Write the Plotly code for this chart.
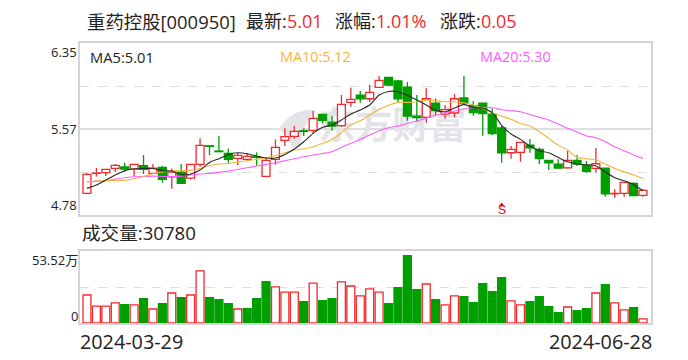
import plotly.graph_objects as go

dates = ["2024-03-29", "2024-06-28"]
days = list(range(60))

price_open = [4.977,5.160,5.166,5.205,5.218,5.199,5.230,5.160,5.215,5.129,5.172,5.117,5.242,5.412,5.364,5.342,5.297,5.288,5.312,5.132,
              5.288,5.461,5.498,5.549,5.552,5.698,5.628,5.595,5.808,5.875,5.841,5.945,6.036,6.003,5.948,5.683,5.671,5.802,5.701,5.711,
              5.848,5.778,5.802,5.701,5.574,5.348,5.351,5.418,5.379,5.278,5.245,5.211,5.278,5.233,5.205,5.208,4.974,4.977,5.069,4.959]
price_high = [5.160,5.210,5.196,5.245,5.257,5.242,5.327,5.245,5.227,5.205,5.245,5.242,5.479,5.412,5.501,5.388,5.348,5.342,5.352,5.306,
              5.470,5.571,5.592,5.571,5.729,5.698,5.683,5.875,5.942,5.911,5.966,6.048,6.036,6.012,5.994,5.875,5.936,5.844,5.781,5.884,
              6.048,5.820,5.802,5.753,5.592,5.409,5.443,5.473,5.397,5.278,5.288,5.364,5.327,5.272,5.391,5.208,5.014,5.078,5.078,5.014]
price_low = [4.977,5.130,5.135,5.172,5.175,5.135,5.154,5.154,5.075,5.020,5.069,5.105,5.221,5.327,5.358,5.245,5.236,5.275,5.230,5.132,
             5.239,5.409,5.476,5.501,5.525,5.616,5.549,5.586,5.768,5.805,5.811,5.945,5.960,5.808,5.641,5.628,5.622,5.689,5.659,5.674,
             5.781,5.686,5.504,5.510,5.257,5.294,5.266,5.348,5.245,5.190,5.202,5.205,5.227,5.166,5.166,4.947,4.938,4.947,4.956,4.947]
price_close = [5.151,5.163,5.196,5.233,5.199,5.242,5.196,5.208,5.105,5.172,5.069,5.242,5.415,5.406,5.358,5.288,5.324,5.315,5.306,5.278,
               5.397,5.495,5.543,5.543,5.662,5.644,5.592,5.790,5.835,5.841,5.899,6.009,5.966,5.841,5.683,5.668,5.841,5.732,5.741,5.841,
               5.802,5.714,5.705,5.522,5.348,5.379,5.443,5.394,5.294,5.257,5.208,5.278,5.245,5.178,5.248,4.974,4.977,5.078,4.956,5.005]

ma5 = [5.023,5.053,5.099,5.145,5.184,5.202,5.205,5.205,5.184,5.181,5.148,5.154,5.190,5.260,5.294,5.333,5.348,5.339,5.318,5.300,
       5.300,5.333,5.382,5.449,5.525,5.580,5.601,5.647,5.701,5.738,5.784,5.875,5.908,5.905,5.872,5.829,5.784,5.735,5.723,5.756,
       5.790,5.759,5.756,5.714,5.598,5.519,5.470,5.409,5.367,5.348,5.306,5.266,5.245,5.239,5.227,5.175,5.120,5.093,5.059,5.001]
ma10 = [5.084,5.090,5.096,5.096,5.096,5.111,5.132,5.157,5.172,5.184,5.184,5.190,5.205,5.230,5.245,5.251,5.263,5.275,5.288,5.303,
        5.321,5.348,5.373,5.385,5.403,5.434,5.470,5.531,5.601,5.641,5.692,5.744,5.781,5.808,5.808,5.814,5.829,5.823,5.814,5.814,
        5.805,5.784,5.753,5.714,5.683,5.653,5.616,5.592,5.540,5.479,5.418,5.373,5.306,5.294,5.282,5.245,5.205,5.175,5.145,5.114]
ma20 = [5.081,5.087,5.093,5.108,5.120,5.129,5.132,5.135,5.132,5.132,5.135,5.145,5.154,5.160,5.169,5.181,5.196,5.212,5.227,5.242,
        5.257,5.275,5.294,5.312,5.327,5.342,5.358,5.397,5.434,5.470,5.510,5.549,5.577,5.592,5.616,5.638,5.662,5.692,5.714,5.729,
        5.750,5.759,5.762,5.759,5.741,5.732,5.723,5.698,5.671,5.647,5.610,5.571,5.537,5.501,5.485,5.449,5.403,5.367,5.327,5.297]

volume = [20.8,12.6,12.6,14.9,13.6,13.4,18.1,10.4,14.4,22.3,18.8,20.8,38.7,18.8,17.3,14.4,10.4,10.7,18.1,30.7,
          26.8,23.0,23.0,15.9,29.7,16.6,18.1,30.5,27.5,20.1,25.3,23.0,14.4,26.3,50.1,24.8,29.0,17.3,13.4,20.1,
          19.6,15.1,29.2,23.3,33.7,16.4,13.4,15.9,19.6,12.1,7.7,11.9,9.2,10.7,22.3,28.5,14.9,9.7,11.4,3.08]
volume_up = [1,1,1,1,0,1,0,1,0,1,0,1,1,0,0,0,1,0,0,0,
             1,1,1,0,1,0,0,1,1,1,1,1,0,0,0,0,1,0,1,1,
             0,0,0,0,0,1,1,0,0,0,0,1,0,0,1,0,1,1,0,1]

sell_day = [44]
sell_price = [4.872]
price_ticks = [6.35, 5.57, 4.78]
price_grid = [5.9575, 5.1725]
volume_ticks = ["53.52万", "0"]

RED = "#f5282d"
GREEN = "#009f00"
FRAME = "#d3d3dc"
GRID = "#dddddd"
FONT = "Open Sans, Noto Sans CJK SC, sans-serif"
W, H = 688, 360
PL, PR = 80, 651


def py(px):
    return 1 - px / H


def pxx(px):
    return (px - PL) / (PR - PL)


fig = go.Figure()

# watermark: lowest layer, on the base axes
fig.add_trace(go.Scatter(x=[32.4], y=[5.56], mode="text", text=["东方财富"], hoverinfo="skip",
                         textfont=dict(size=37, color="#e4e4e8",
                                       family="Noto Sans CJK SC, sans-serif", weight=700),
                         xaxis="x", yaxis="y", showlegend=False, cliponaxis=False))

# candle bodies and wicks on overlay axes, above the watermark
up = [c >= o for o, c in zip(price_open, price_close)]
fig.add_trace(go.Bar(
    x=days, y=[abs(c - o) for o, c in zip(price_open, price_close)],
    base=[min(o, c) for o, c in zip(price_open, price_close)],
    marker=dict(color=["white" if u else GREEN for u in up],
                line=dict(color=[RED if u else GREEN for u in up], width=1.3)),
    xaxis="x", yaxis="y3", showlegend=False, hoverinfo="skip"))


def wicks(flag, color):
    xs, ys = [], []
    for d, o, h, l, c, u in zip(days, price_open, price_high, price_low, price_close, up):
        if u == flag:
            xs += [d, d, None, d, d, None]
            ys += [h, max(o, c), None, min(o, c), l, None]
    fig.add_trace(go.Scatter(x=xs, y=ys, mode="lines", line=dict(color=color, width=1.3), connectgaps=False,
                             xaxis="x", yaxis="y3", showlegend=False, hoverinfo="skip"))


wicks(True, RED)
wicks(False, GREEN)

for vals, col in ((ma20, "#ff5cff"), (ma10, "#f5b43c"), (ma5, "#2a2a2a")):
    fig.add_trace(go.Scatter(x=days, y=vals, mode="lines",
                             line=dict(color=col, width=1.1, shape="spline", smoothing=0.6),
                             xaxis="x", yaxis="y3", showlegend=False, hoverinfo="skip"))

fig.add_trace(go.Scatter(x=sell_day, y=sell_price, mode="markers",
                         marker=dict(symbol="triangle-up", size=5, color="#f00000"),
                         xaxis="x", yaxis="y3", showlegend=False, hoverinfo="skip"))

fig.add_trace(go.Bar(
    x=days, y=volume,
    marker=dict(color=["white" if u else GREEN for u in volume_up],
                line=dict(color=[RED if u else GREEN for u in volume_up], width=1.3)),
    xaxis="x2", yaxis="y2", showlegend=False, hoverinfo="skip"))

xr = [-0.74, 59.85]
axis_x = dict(range=xr, showgrid=False, zeroline=False, showticklabels=False, ticks="",
              showline=True, mirror=True, linecolor=FRAME, linewidth=1.5)
price_range = [4.78, 6.35]
fig.update_layout(
    width=W, height=H, autosize=False, paper_bgcolor="white", plot_bgcolor="white",
    margin=dict(l=PL, r=W - PR, t=0, b=0, pad=0, autoexpand=False),
    bargap=0.16, barmode="overlay", hovermode=False, showlegend=False,
    xaxis=dict(axis_x, anchor="y"),
    xaxis2=dict(axis_x, anchor="y2", matches="x"),
    yaxis=dict(domain=[py(215), py(43)], range=price_range, anchor="x",
               tickvals=price_grid, showticklabels=False, ticks="",
               showgrid=True, gridcolor=GRID, griddash="dash", gridwidth=1, zeroline=False,
               showline=True, mirror=True, linecolor=FRAME, linewidth=1.5),
    yaxis3=dict(domain=[py(215), py(43)], range=price_range, anchor="x", overlaying="y",
                showticklabels=False, ticks="", showgrid=False, zeroline=False, showline=False),
    yaxis2=dict(domain=[py(323), py(251)], range=[0, 53.52], anchor="x2",
                tickvals=[26.76], showticklabels=False, ticks="",
                showgrid=True, gridcolor=GRID, griddash="dash", gridwidth=1, zeroline=False,
                showline=True, mirror=True, linecolor=FRAME, linewidth=1.5),
    shapes=[
        dict(type="line", xref="x domain", yref="y", x0=0, x1=1, y0=5.565, y1=5.565,
             line=dict(color=FRAME, width=1.3), layer="below"),
        dict(type="path", xref="paper", yref="paper", layer="below", line=dict(width=0), fillcolor="#e4e4e8",
             path="M {:.4f},{:.4f} Q {:.4f},{:.4f} {:.4f},{:.4f} Q {:.4f},{:.4f} {:.4f},{:.4f} L {:.4f},{:.4f} Q {:.4f},{:.4f} {:.4f},{:.4f} Z".format(
                 pxx(278), py(130), pxx(292), py(108), pxx(316), py(110),
                 pxx(303), py(122), pxx(300), py(146), pxx(291), py(147),
                 pxx(291), py(134), pxx(278), py(130))),
    ],
)


def label(px, pyy, text, color="#222222", size=14, anchor="left"):
    fig.add_annotation(x=pxx(px), y=py(pyy), xref="paper", yref="paper", text=text, showarrow=False,
                       xanchor=anchor, yanchor="middle", align=anchor, borderpad=0, borderwidth=0,
                       font=dict(size=size, color=color, family=FONT))


# header
label(87, 21, "重药控股[000950]", size=18.4)
label(246, 21, "最新:", size=18)
label(287, 21, "5.01", RED, 18)
label(335, 21, "涨幅:", size=18)
label(376, 21, "1.01%", RED, 18)
label(440, 21, "涨跌:", size=18)
label(481, 21, "0.05", RED, 18)

# moving average read-outs
label(90, 56.5, "MA5:5.01", "#222222", 14.7)
label(280, 56.5, "MA10:5.12", "#f5b43c", 14.4)
label(480, 56.5, "MA20:5.30", "#ff5cff", 14.4)

# price axis labels
label(77, 52, str(price_ticks[0]), size=13, anchor="right")
label(77, 129, str(price_ticks[1]), size=13, anchor="right")
label(77, 205, str(price_ticks[2]), size=13, anchor="right")

# volume
label(82, 232, "成交量:30780", size=18.6)
label(78, 260, volume_ticks[0], size=13, anchor="right")
label(78, 316, volume_ticks[1], size=13, anchor="right")

# dates
label(80, 341, dates[0], size=19.8)
label(652, 341, dates[1], size=19.8, anchor="right")

# sell flag
fig.add_annotation(x=pxx(502), y=py(210), xref="paper", yref="paper", text="S", showarrow=False,
                   xanchor="center", yanchor="middle",
                   font=dict(size=12, color="#f00000", family="Liberation Sans"))

fig.write_html("out.html", config=dict(displayModeBar=False),
               post_script="document.body.style.margin='0';")
